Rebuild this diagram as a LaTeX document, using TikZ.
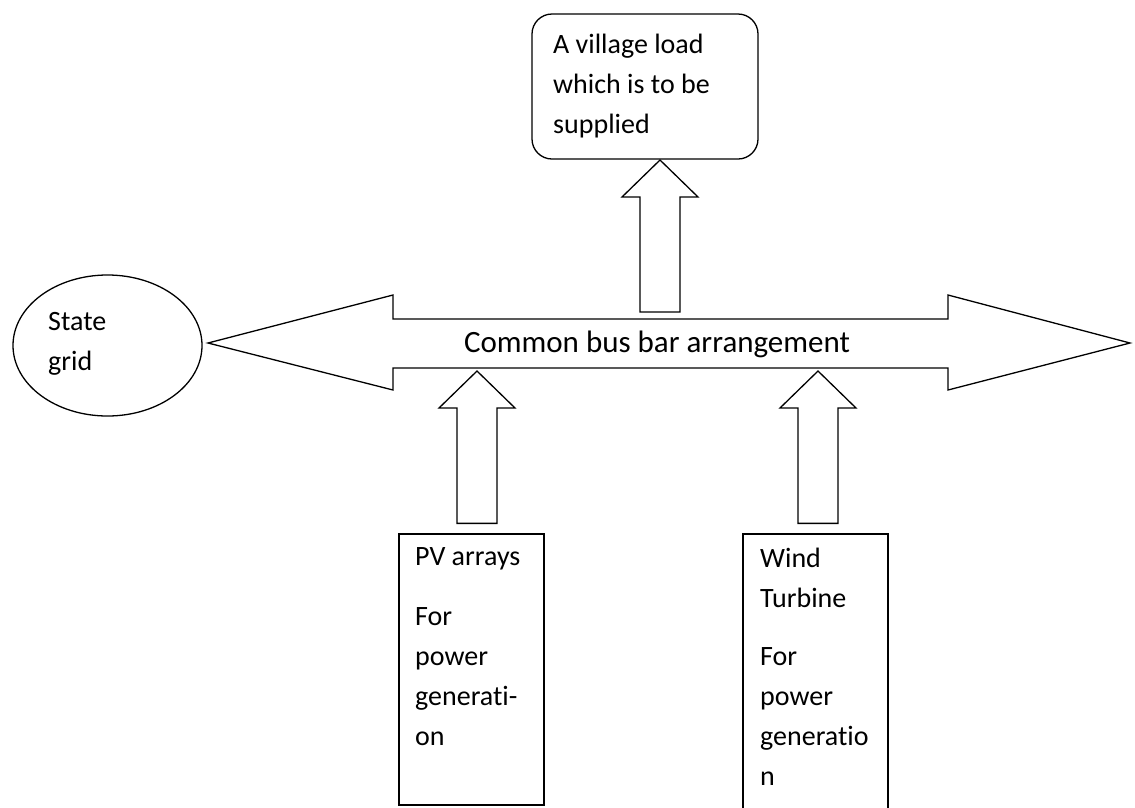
\documentclass[tikz,border=0pt]{standalone}
\usepackage{fontspec}
\setmainfont[Ligatures=CommonOff]{Carlito}
\usetikzlibrary{shapes.geometric,calc}

\tikzset{
  outline/.style={draw=black, line width=1.3pt, line join=miter},
  % multi-line labels: the base anchor sits on the last line's baseline
  boxtext/.style={font=\fontsize{28}{40}\selectfont, align=left, inner sep=0pt,
                  anchor=base west, text=black},
}

% Hollow upward block arrow: x taken from the tip coordinate (#2),
% shaft bottom placed #3 above the source anchor (#1).
\newcommand\upblock[3]{%
  \draw[outline] let \p1=(#1), \p2=(#2) in
    (\x2,\y2) -- (\x2+38pt,\y2-37pt) -- (\x2+20pt,\y2-37pt)
    -- (\x2+20pt,\y1+#3) -- (\x2-20pt,\y1+#3) -- (\x2-20pt,\y2-37pt)
    -- (\x2-38pt,\y2-37pt) -- cycle;}

\begin{document}
\begin{tikzpicture}[x=1pt,y=-1pt]
\useasboundingbox (0,0) rectangle (1135,807);
\fill[white] (0,0) rectangle (1135,807);

% consumer, sources and grid
\node[outline, rounded corners=20pt, minimum width=226pt, minimum height=145pt,
      inner sep=0pt] (village) at (645,86.5) {};
\node[outline, ellipse, minimum width=189pt, minimum height=141pt,
      inner sep=0pt] (grid) at (107.5,345.5) {};
\node[outline, minimum width=145pt, minimum height=271pt, inner sep=0pt]
      (pv) at (471.5,669.5) {};
\node[outline, minimum width=145pt, minimum height=284pt, inner sep=0pt]
      (wind) at (815.5,676) {};

% texts
\node[boxtext] (villagetext) at (553,133) {A village load\\which is to be\\supplied};
\node[boxtext] (gridtext) at (48,370) {State\\grid};
\node[boxtext] (pvtext) at (415,745) {PV arrays\\[20pt]For\\power\\generati-\\on};
\node[boxtext] (windtext) at (760,785) {Wind\\Turbine\\[18pt]For\\power\\generatio\\n};

% common bus bar (double block arrow)
\draw[outline] (208,343) -- (393,295) -- (393,319) -- (948,319) -- (948,295)
  -- (1130,343) -- (948,390) -- (948,368) -- (393,368) -- (393,390) -- cycle;
\node[font=\fontsize{31}{36}\selectfont, inner sep=0pt, anchor=base, text=black]
      (bus) at (657,352) {Common bus bar arrangement};

% arrow end points on the bus bar and the load
\coordinate (busN) at (660,319);
\coordinate (loadTip) at (660,160);
\coordinate (pvTip) at (477,371);
\coordinate (windTip) at (818,371);

% power flow arrows
\upblock{busN}{loadTip}{7pt}
\upblock{pv.north}{pvTip}{10pt}
\upblock{wind.north}{windTip}{10pt}
\end{tikzpicture}
\end{document}
